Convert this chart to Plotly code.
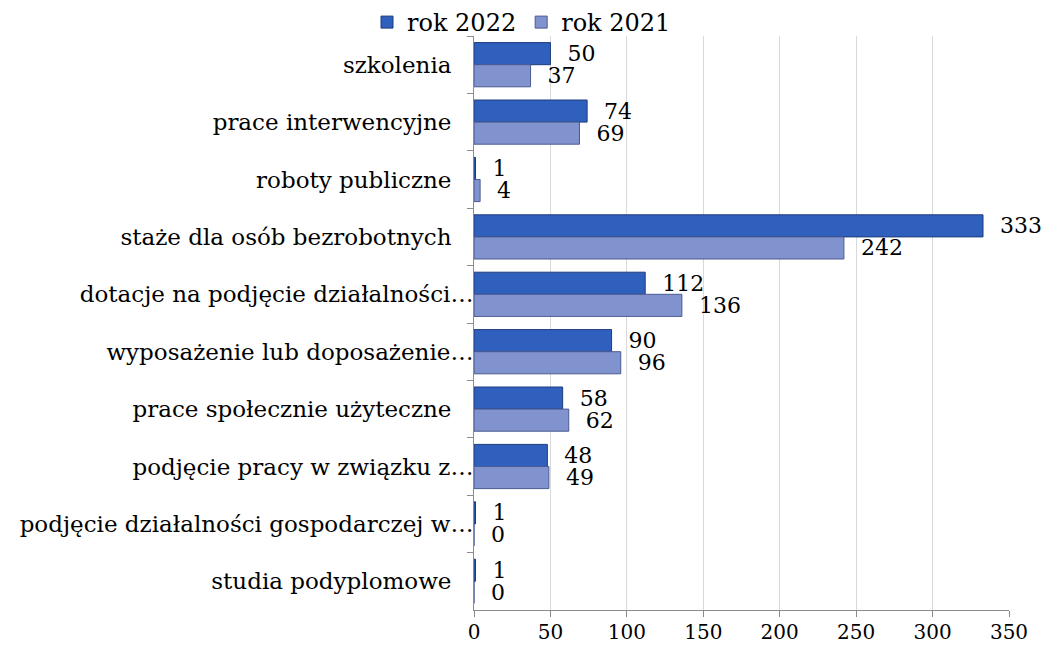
import plotly.graph_objects as go

categories = [
    "szkolenia",
    "prace interwencyjne",
    "roboty publiczne",
    "staże dla osób bezrobotnych",
    "dotacje na podjęcie działalności…",
    "wyposażenie lub doposażenie…",
    "prace społecznie użyteczne",
    "podjęcie pracy w związku z…",
    "podjęcie działalności gospodarczej w…",
    "studia podyplomowe",
]
truncated = [False, False, False, False, True, True, False, True, True, False]
values_2022 = [50, 74, 1, 333, 112, 90, 58, 48, 1, 1]
values_2021 = [37, 69, 4, 242, 136, 96, 62, 49, 0, 0]
x_ticks = [0, 50, 100, 150, 200, 250, 300, 350]

FONT = "DejaVu Serif"
NB = "\u00a0"
labels = [c if t else c + NB * 3 for c, t in zip(categories, truncated)]

fig = go.Figure()
fig.add_trace(go.Bar(
    y=labels, x=values_2022, orientation="h", name="rok 2022",
    marker=dict(color="#3060BE", line=dict(color="#1E3C7C", width=1)),
    text=values_2022, texttemplate=NB + NB + "%{x}", textposition="outside",
    textfont=dict(family=FONT, size=22, color="black"),
    constraintext="none", cliponaxis=False,
))
fig.add_trace(go.Bar(
    y=labels, x=values_2021, orientation="h", name="rok 2021",
    marker=dict(color="#8193CF", line=dict(color="#4B5B90", width=1)),
    text=values_2021, texttemplate=NB + NB + "%{x}", textposition="outside",
    textfont=dict(family=FONT, size=22, color="black"),
    constraintext="none", cliponaxis=False,
))

fig.update_layout(
    width=1043, height=653,
    barmode="group", bargap=0.23, bargroupgap=0,
    plot_bgcolor="white", paper_bgcolor="white",
    margin=dict(l=474, r=34, t=36, b=43, autoexpand=False),
    font=dict(family=FONT, size=22, color="black"),
    legend=dict(
        orientation="h", xref="container", yref="container",
        x=0.5, xanchor="center", y=1.0, yanchor="top",
        font=dict(family=FONT, size=24, color="black"),
        itemwidth=30, tracegroupgap=0, bgcolor="rgba(0,0,0,0)",
    ),
    xaxis=dict(
        range=[0, 350], tickvals=x_ticks, ticktext=[str(v) for v in x_ticks],
        showgrid=True, gridcolor="#D9D9D9", gridwidth=1,
        showline=True, linecolor="#8C8C8C", linewidth=1,
        ticks="outside", ticklen=6, tickcolor="#8C8C8C",
        ticklabelstandoff=-2,
        tickfont=dict(family=FONT, size=20, color="black"),
        zeroline=False, automargin=False, fixedrange=True,
    ),
    yaxis=dict(
        type="category", categoryorder="array", categoryarray=labels,
        autorange="reversed",
        showline=True, linecolor="#8C8C8C", linewidth=1,
        ticks="outside", ticklen=6, tickcolor="#8C8C8C", tickson="boundaries",
        ticklabelstandoff=-5,
        tickfont=dict(family=FONT, size=23, color="black"),
        showgrid=False, automargin=False,
    ),
)

fig.write_html(
    "out.html",
    config={"displayModeBar": False},
    post_script="document.body.style.margin='0';document.body.style.padding='0';",
)
